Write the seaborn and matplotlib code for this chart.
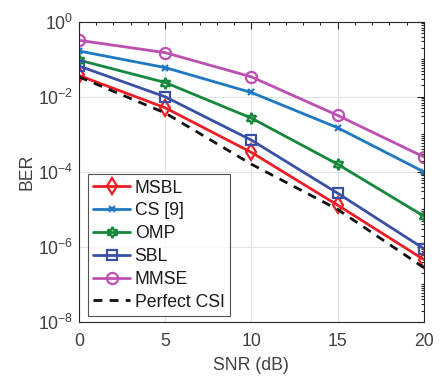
"""
BER vs SNR comparison of channel estimators.
"""

import matplotlib

matplotlib.use("Agg")

import matplotlib.pyplot as plt
import numpy as np
import pandas as pd
import seaborn as sns
from matplotlib.ticker import FixedLocator, LogLocator, NullFormatter, MultipleLocator

snr_db = [0, 5, 10, 15, 20]

ber_msbl = [3.7e-2, 5.1e-3, 3.3e-4, 1.3e-5, 4.6e-7]
ber_cs = [1.66e-1, 6.0e-2, 1.3e-2, 1.5e-3, 1.0e-4]
ber_omp = [9.5e-2, 2.4e-2, 2.7e-3, 1.6e-4, 6.6e-6]
ber_sbl = [6.6e-2, 1.0e-2, 7.0e-4, 2.7e-5, 9.0e-7]
ber_mmse = [3.2e-1, 1.5e-1, 3.4e-2, 3.2e-3, 2.5e-4]
ber_perfect = [3.4e-2, 3.7e-3, 1.6e-4, 1.0e-5, 2.8e-7]

series_names = ["MSBL", "CS [9]", "OMP", "SBL", "MMSE", "Perfect CSI"]
series_values = [ber_msbl, ber_cs, ber_omp, ber_sbl, ber_mmse, ber_perfect]

colors = ["#ee1c24", "#1f78c1", "#15883c", "#3a4fa6", "#bd4fb0", "#111111"]
markers = ["d", "x", (6, 1, 0), "s", "o", None]
marker_sizes = [8, 5, 8, 6.5, 8, 0]

sns.set_style("white")
plt.rcParams["font.family"] = ["Liberation Sans", "DejaVu Sans"]
plt.rcParams["mathtext.fontset"] = "custom"
plt.rcParams["mathtext.rm"] = "Liberation Sans"
plt.rcParams["mathtext.it"] = "Liberation Sans"

text_color = "#404040"
fsize = 12.7

fig = plt.figure(figsize=(4.41, 3.81), dpi=100)
ax = fig.add_axes([0.179, 0.155, 0.782, 0.788])

for name, vals, color, marker, msize in zip(series_names, series_values, colors,
                                            markers, marker_sizes):
    df = pd.DataFrame({"snr": snr_db, "ber": vals})
    if marker is None:
        sns.lineplot(data=df, x="snr", y="ber", ax=ax, color=color, linewidth=2.0,
                     linestyle=(0, (3.2, 2.6)), label=name)
    else:
        sns.lineplot(data=df, x="snr", y="ber", ax=ax, color=color, linewidth=2.0,
                     marker=marker, markersize=msize,
                     markerfacecolor="none", markeredgecolor=color,
                     markeredgewidth=1.6, label=name)

ax.set_yscale("log")
ax.set_xlim(0, 20)
ax.set_ylim(1e-8, 1e0)
ax.xaxis.set_major_locator(MultipleLocator(5))
ax.xaxis.set_minor_locator(MultipleLocator(1))
ax.yaxis.set_major_locator(FixedLocator([1e-8, 1e-6, 1e-4, 1e-2, 1e0]))
ax.yaxis.set_minor_locator(LogLocator(base=10, subs=np.arange(1, 10), numticks=20))
ax.yaxis.set_minor_formatter(NullFormatter())
ax.set_yticklabels([r"$10^{-8}$", r"$10^{-6}$", r"$10^{-4}$", r"$10^{-2}$", r"$10^{0}$"])

ax.grid(True, which="major", color="#e3e3e3", linewidth=0.8)
ax.tick_params(axis="both", which="both", direction="in", top=True, right=True,
               colors="#262626", labelcolor=text_color, labelsize=fsize, width=0.8)
ax.tick_params(axis="x", which="major", length=5, pad=8)
ax.tick_params(axis="y", which="major", length=5, pad=4)
ax.tick_params(axis="both", which="minor", length=2.5)
for spine in ax.spines.values():
    spine.set_color("#262626")
    spine.set_linewidth(0.8)

ax.set_xlabel("SNR (dB)", fontsize=fsize, color=text_color, labelpad=5)
ax.set_ylabel("BER", fontsize=fsize, color=text_color, labelpad=2)

leg = ax.legend(loc="lower left", bbox_to_anchor=(0.026, 0.02), fontsize=fsize,
                frameon=True, fancybox=False, handlelength=2.1, handletextpad=0.25,
                borderpad=0.3, labelspacing=0.33, borderaxespad=0.0)
leg.get_frame().set_edgecolor("#262626")
leg.get_frame().set_linewidth(0.8)
for text in leg.get_texts():
    text.set_color("#1a1a1a")

fig.savefig("out.png", dpi=100)
